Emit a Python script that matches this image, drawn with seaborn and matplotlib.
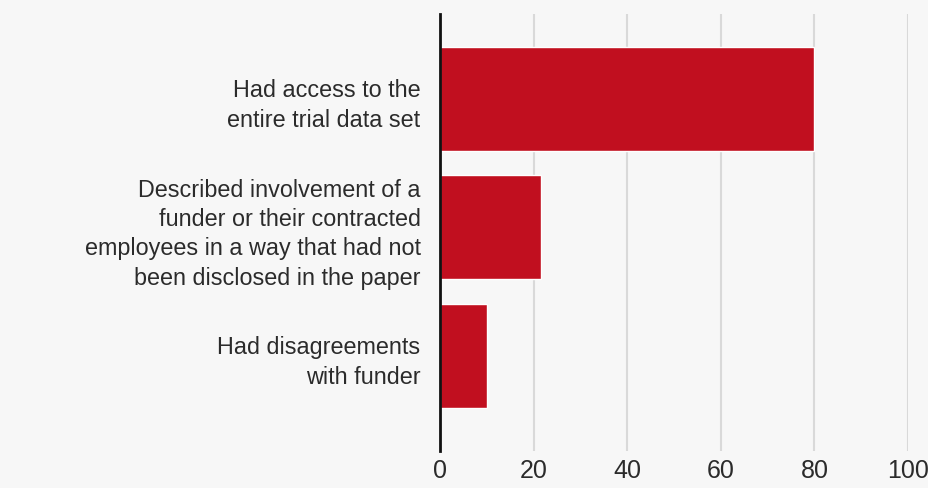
import pandas as pd
import numpy as np
import matplotlib.pyplot as plt
import seaborn as sns

# --- datos ---
categories = [
    "Had access to the\nentire trial data set",
    "Described involvement of a\nfunder or their contracted\nemployees in a way that had not\nbeen disclosed in the paper",
    "Had disagreements\nwith funder",
]
percent = [80, 21.5, 10]
x_ticks = [0, 20, 40, 60, 80, 100]

df = pd.DataFrame({"category": categories, "percent": percent})

sns.set_theme(style="white")
plt.rcParams["font.family"] = ["Liberation Sans", "DejaVu Sans"]

fig = plt.figure(figsize=(9.29, 4.89), dpi=100)
fig.patch.set_facecolor("#f7f7f7")
ax = fig.add_axes([0.4736, 0.0757, 0.5038, 0.8933])
ax.set_facecolor("#f7f7f7")

sns.barplot(data=df, x="percent", y="category", color="#c10f1f",
            saturation=1, width=0.81, ax=ax, zorder=3)

ax.set_xlim(0, 100)
ax.set_ylim(2.74, -0.66)
ax.set_xticks(x_ticks)
ax.set_xticklabels([str(t) for t in x_ticks], fontsize=18, color="#2b2b2b")
ax.tick_params(axis="x", length=0, pad=5)
ax.tick_params(axis="y", length=0, pad=14)
for lbl in ax.get_yticklabels():
    lbl.set_fontsize(16.8)
    lbl.set_color("#2b2b2b")
    lbl.set_horizontalalignment("right")
    lbl.set_multialignment("right")
    lbl.set_linespacing(1.35)

ax.xaxis.grid(True, color="#d9d9d9", linewidth=1.5, zorder=0)
ax.set_xlabel("")
ax.set_ylabel("")
for side in ["top", "right", "bottom"]:
    ax.spines[side].set_visible(False)
ax.spines["left"].set_color("#111111")
ax.spines["left"].set_linewidth(2)
ax.spines["left"].set_zorder(5)

fig.savefig("out.png", dpi=100, facecolor=fig.get_facecolor())
